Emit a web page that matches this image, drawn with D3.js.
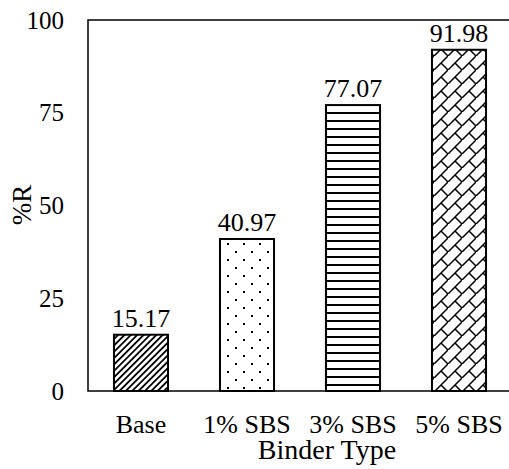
<!DOCTYPE html>
<html><head><meta charset="utf-8">
<script src="https://cdn.jsdelivr.net/npm/d3@7"></script>
</head><body style="margin:0">
<script>
const categories = ["Base", "1% SBS", "3% SBS", "5% SBS"];
const values = [15.17, 40.97, 77.07, 91.98];
const labels = ["15.17", "40.97", "77.07", "91.98"];
const yTicks = [0, 25, 50, 75, 100];
const patterns = ["diag", "dots", "hlines", "brick"];

const FONT = '"Liberation Serif", "Times New Roman", Times, serif';
const W = 509, H = 469;
const m = {left: 88, top: 20};
const svg = d3.select("body").append("svg").attr("width", W).attr("height", H)
  .style("display", "block").style("font-family", FONT, "important");

const defs = svg.append("defs");
const p1 = defs.append("pattern").attr("id","diag").attr("patternUnits","userSpaceOnUse").attr("width",4.5).attr("height",4.5).attr("patternTransform","rotate(45)");
p1.append("rect").attr("x",0).attr("y",0).attr("width",1.8).attr("height",4.5).attr("fill","#000");
const p2 = defs.append("pattern").attr("id","dots").attr("patternUnits","userSpaceOnUse").attr("width",16).attr("height",16);
p2.append("rect").attr("x",3).attr("y",3).attr("width",2).attr("height",2).attr("fill","#000");
p2.append("rect").attr("x",11).attr("y",11).attr("width",2).attr("height",2).attr("fill","#000");
const p3 = defs.append("pattern").attr("id","hlines").attr("patternUnits","userSpaceOnUse").attr("width",8).attr("height",8);
p3.append("rect").attr("x",0).attr("y",0).attr("width",8).attr("height",2).attr("fill","#000");
const p4 = defs.append("pattern").attr("id","brick").attr("patternUnits","userSpaceOnUse").attr("width",14).attr("height",14);
p4.append("path").attr("d","M-1,15L15,-1M7,7L14,14").attr("stroke","#000").attr("stroke-width",1.5).attr("fill","none");

const x = d3.scaleBand().domain(categories).range([m.left, 512]).paddingInner(0.49).paddingOuter(0.245);
const y = d3.scaleLinear().domain([0, 100]).range([391, m.top]);

svg.append("rect").attr("x", m.left).attr("y", y(100)).attr("width", 512 - m.left).attr("height", y(0) - y(100))
  .attr("fill","none").attr("stroke","#000").attr("stroke-width",1.5);

svg.selectAll(".bar").data(values).enter().append("rect")
  .attr("x", (d,i) => x(categories[i]))
  .attr("y", d => y(d))
  .attr("width", x.bandwidth())
  .attr("height", d => y(0) - y(d))
  .attr("fill", (d,i) => "url(#" + patterns[i] + ")")
  .attr("stroke", "#000").attr("stroke-width", 2);

function serif(sel, size) {
  sel.attr("font-family", FONT)
     .style("font-family", FONT, "important")
     .style("font-size", size + "px", "important")
     .attr("fill", "#000");
}

svg.selectAll(".val").data(values).enter().append("text")
  .attr("x", (d,i) => x(categories[i]) + x.bandwidth()/2)
  .attr("y", d => y(d) - 8)
  .attr("text-anchor","middle")
  .call(serif, 26)
  .text((d,i) => labels[i]);

const yAxis = d3.axisLeft(y).tickValues(yTicks).tickSize(0).tickPadding(24);
const gy = svg.append("g").attr("transform", `translate(${m.left},0)`).call(yAxis);
gy.attr("font-family", FONT).attr("font-size", null);
gy.select(".domain").remove();
gy.selectAll("text").call(serif, 25);

const xAxis = d3.axisBottom(x).tickSize(0).tickPadding(0);
const gx = svg.append("g").attr("transform", `translate(0,${y(0)})`).call(xAxis);
gx.attr("font-family", FONT).attr("font-size", null);
gx.select(".domain").remove();
gx.selectAll("text").attr("dy", null).attr("y", 42).call(serif, 26);

svg.append("text").attr("x", 327).attr("y", 459).attr("text-anchor","middle").call(serif, 28).text("Binder Type");
svg.append("text").attr("transform", `translate(31,205) rotate(-90)`).attr("text-anchor","middle").call(serif, 27).text("%R");
</script>
</body></html>
